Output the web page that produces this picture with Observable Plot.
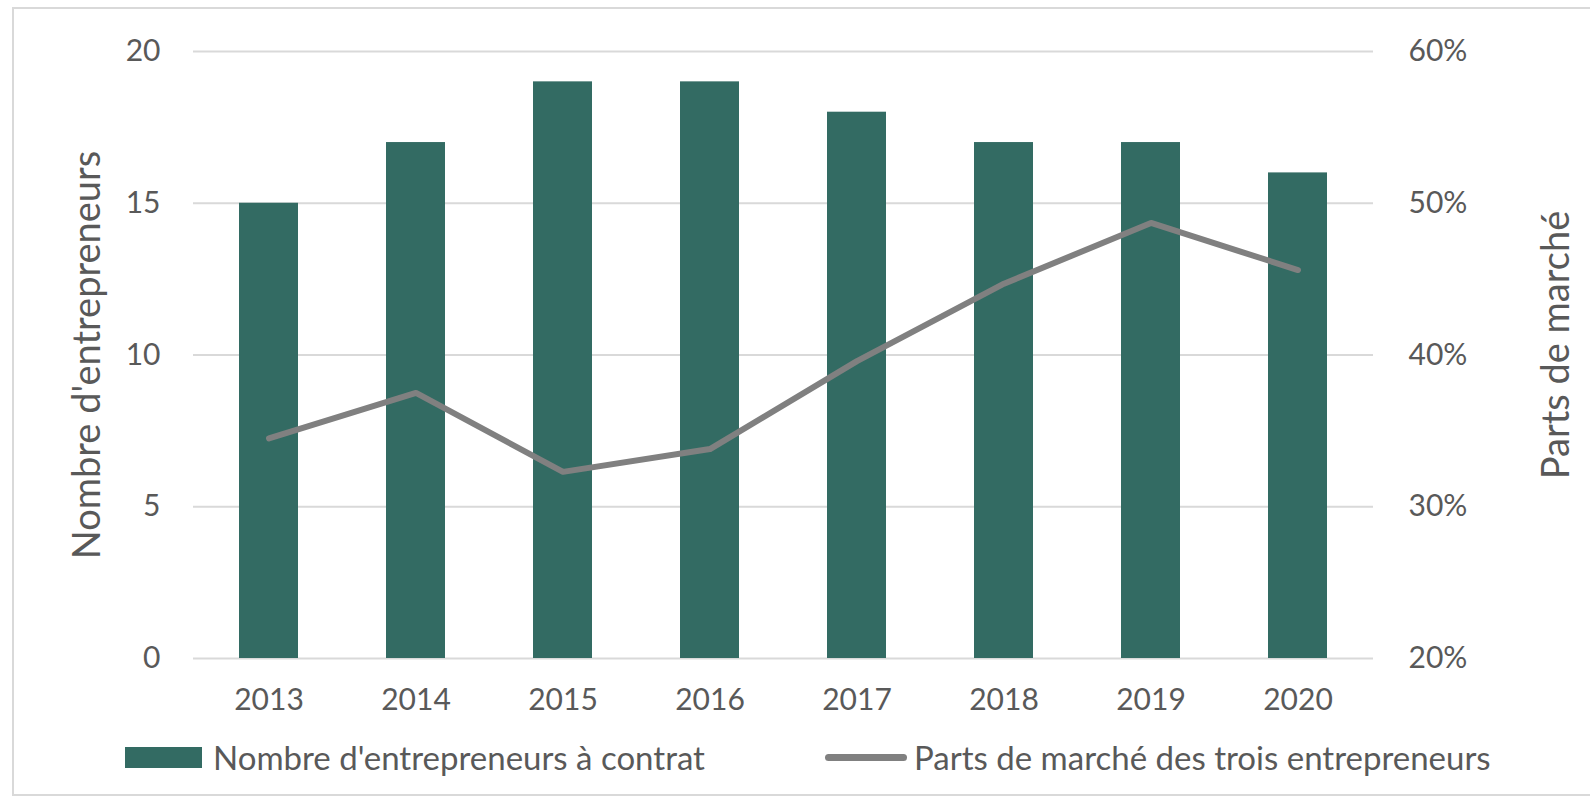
<!DOCTYPE html>
<html>
<head>
<meta charset="utf-8">
<script src="https://cdn.jsdelivr.net/npm/d3@7"></script>
<script src="https://cdn.jsdelivr.net/npm/@observablehq/plot@0.6"></script>
<style>
  html, body { margin: 0; padding: 0; background: #fff; }
  #wrap { position: relative; width: 1590px; height: 801px; overflow: hidden; font-family: Lato, sans-serif; color: #595959; }
  #frame { position: absolute; left: 12px; top: 7px; width: 1600px; height: 789px; border: 2px solid #D9D9D9; box-sizing: border-box; }
  #chart { position: absolute; left: 0; top: 0; }
  .leg { position: absolute; top: 730px; height: 54px; display: flex; align-items: center; font-size: 33px; white-space: nowrap; }
  .sw-bar { width: 77px; height: 21px; background: #336B63; margin-right: 11px; }
  .sw-line { width: 82px; height: 7px; background: #808080; border-radius: 4px; margin-right: 7px; }
</style>
</head>
<body>
<div id="wrap">
  <div id="frame"></div>
  <div id="chart"></div>
  <div class="leg" id="leg1" style="left:125px"></div>
  <div class="leg" id="leg2" style="left:825px"></div>
</div>
<script>
const years = ["2013", "2014", "2015", "2016", "2017", "2018", "2019", "2020"];
const entrepreneurs = [15, 17, 19, 19, 18, 17, 17, 16];
const marketShare = [34.5, 37.5, 32.3, 33.8, 39.6, 44.7, 48.7, 45.6];
const leftTicks = [0, 5, 10, 15, 20];
const rightTickLabels = ["20%", "30%", "40%", "50%", "60%"];
const leftDomain = [0, 20];
const rightDomain = [20, 60];
const leftTitle = "Nombre d'entrepreneurs";
const rightTitle = "Parts de marché";
const seriesNames = ["Nombre d'entrepreneurs à contrat", "Parts de marché des trois entrepreneurs"];

const data = years.map((y, i) => ({year: y, count: entrepreneurs[i], share: marketShare[i]}));
// map the right-axis (share) values onto the left-axis scale
const toLeft = s => leftDomain[0] + (s - rightDomain[0]) * (leftDomain[1] - leftDomain[0]) / (rightDomain[1] - rightDomain[0]);

const barColor = "#336B63";
const lineColor = "#808080";
const gridColor = "#D9D9D9";
const textColor = "#595959";

const chart = Plot.plot({
  width: 1590,
  height: 730,
  marginLeft: 193,
  marginRight: 217,
  marginTop: 51,
  marginBottom: 72,
  x: {domain: years, paddingInner: 0.6, paddingOuter: 0.3},
  y: {domain: leftDomain},
  style: {fontFamily: "Lato, sans-serif", fontSize: "30px", color: textColor, background: "transparent"},
  marks: [
    Plot.gridY(leftTicks, {stroke: gridColor, strokeOpacity: 1, strokeWidth: 2}),
    Plot.barY(data, {x: "year", y: "count", fill: barColor}),
    Plot.line(data, {x: "year", y: d => toLeft(d.share), stroke: lineColor, strokeWidth: 6, strokeLinecap: "round", strokeLinejoin: "round"}),
    Plot.axisY(leftTicks, {anchor: "left", tickSize: 0, tickPadding: 33, label: null, fill: textColor}),
    Plot.axisY(leftTicks, {anchor: "right", tickSize: 0, tickPadding: 35, label: null, fill: textColor, tickFormat: (d) => rightTickLabels[leftTicks.indexOf(d)]}),
    Plot.axisX({tickSize: 0, tickPadding: 30, label: null, fill: textColor}),
    Plot.text([leftTitle], {frameAnchor: "left", dx: -106, rotate: -90, fontSize: 38, fill: textColor, textAnchor: "middle", lineAnchor: "middle"}),
    Plot.text([rightTitle], {frameAnchor: "right", dx: 183, dy: -10, rotate: -90, fontSize: 38, fill: textColor, textAnchor: "middle", lineAnchor: "middle"})
  ]
});
document.getElementById("chart").appendChild(chart);

const l1 = document.getElementById("leg1");
l1.innerHTML = `<div class="sw-bar"></div><span></span>`;
l1.querySelector("span").textContent = seriesNames[0];
const l2 = document.getElementById("leg2");
l2.innerHTML = `<div class="sw-line"></div><span></span>`;
l2.querySelector("span").textContent = seriesNames[1];
</script>
</body>
</html>
